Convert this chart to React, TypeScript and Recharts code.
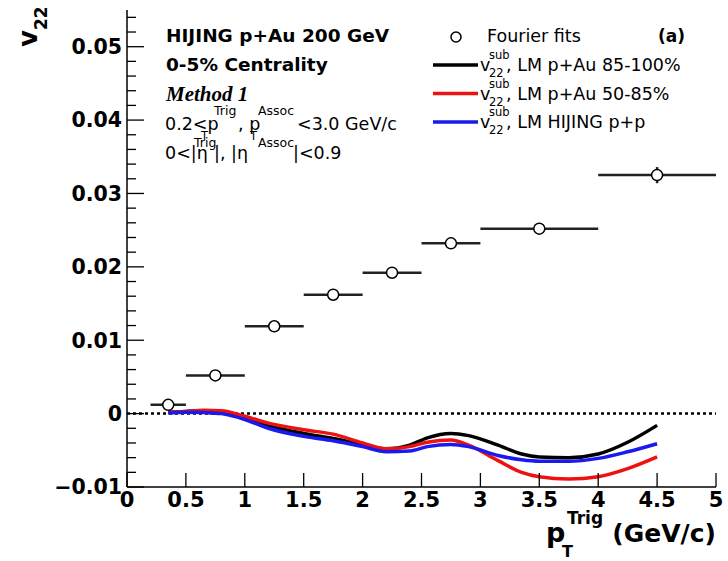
import {
  ComposedChart,
  Line,
  Scatter,
  ErrorBar,
  XAxis,
  YAxis,
  ReferenceLine,
} from "recharts";

// Fourier fit points (bin centre, value, half bin width, stat error)
const fitX = [0.35, 0.75, 1.25, 1.75, 2.25, 2.75, 3.5, 4.5];
const fitY = [0.0012, 0.0052, 0.0119, 0.0162, 0.0192, 0.0232, 0.0252, 0.0325];
const fitXErr = [0.15, 0.25, 0.25, 0.25, 0.25, 0.25, 0.5, 0.5];
const fitYErr = [0.0002, 0.0002, 0.0002, 0.0002, 0.0002, 0.0002, 0.0002, 0.0011];

// v22 sub curves
const curveX = [
  0.35, 0.5, 0.65, 0.8, 1.0, 1.2, 1.5, 1.75, 2.0, 2.2, 2.4, 2.55, 2.75, 2.9,
  3.15, 3.35, 3.5, 3.75, 4.0, 4.25, 4.5,
];
const lm85100 = [
  0.0002, 0.0003, 0.0004, 0.0002, -0.00045, -0.0016, -0.0027, -0.0034, -0.0042,
  -0.0048, -0.0043, -0.0033, -0.0027, -0.003, -0.0043, -0.0055, -0.0059, -0.006,
  -0.0055, -0.0039, -0.0016,
];
const lm5085 = [
  0.0002, 0.0003, 0.00045, 0.0004, -0.00036, -0.0013, -0.0022, -0.0028, -0.004,
  -0.0048, -0.0045, -0.0039, -0.0036, -0.0043, -0.0064, -0.008, -0.0086,
  -0.0089, -0.0086, -0.0075, -0.0059,
];
const lmPP = [
  0.0001, 0.0002, 0.00015, 0.0, -0.0008, -0.002, -0.0031, -0.0037, -0.0045,
  -0.0052, -0.0051, -0.0045, -0.0042, -0.0045, -0.0057, -0.0063, -0.0065,
  -0.0065, -0.0061, -0.0052, -0.0041,
];

const xTicks = [0, 0.5, 1, 1.5, 2, 2.5, 3, 3.5, 4, 4.5, 5];
const xTickLabels = ["0", "0.5", "1", "1.5", "2", "2.5", "3", "3.5", "4", "4.5", "5"];
const yMajor = [-0.01, 0, 0.01, 0.02, 0.03, 0.04, 0.05];
const yMajorLabels = ["\u22120.01", "0", "0.01", "0.02", "0.03", "0.04", "0.05"];
const yTicks = [
  -0.01, -0.008, -0.006, -0.004, -0.002, 0, 0.002, 0.004, 0.006, 0.008, 0.01,
  0.012, 0.014, 0.016, 0.018, 0.02, 0.022, 0.024, 0.026, 0.028, 0.03, 0.032,
  0.034, 0.036, 0.038, 0.04, 0.042, 0.044, 0.046, 0.048, 0.05, 0.052, 0.054,
];

const fitData = fitX.map((x, i) => ({ x, y: fitY[i], xe: fitXErr[i], ye: fitYErr[i] }));
const toSeries = (ys: number[]) => curveX.map((x, i) => ({ x, y: ys[i] }));

const FONT = "'DejaVu Sans', sans-serif";

const isMajor = (v: number) => yMajor.some((m) => Math.abs(m - v) < 1e-9);

const BottomTick = (props: any) => {
  const { x, y, payload } = props;
  const i = xTicks.indexOf(payload.value);
  return (
    <g>
      <line x1={x} y1={y} x2={x} y2={y - 14} stroke="#000" strokeWidth={1.3} />
      <text x={x} y={y + 20} textAnchor="middle" fontFamily={FONT} fontWeight="bold" fontSize={21}>
        {xTickLabels[i]}
      </text>
    </g>
  );
};

const TopTick = (props: any) => {
  const { x, y } = props;
  return <line x1={x} y1={y} x2={x} y2={y + 14} stroke="#000" strokeWidth={1.3} />;
};

const LeftTick = (props: any) => {
  const { x, y, payload } = props;
  const major = isMajor(payload.value);
  const idx = yMajor.findIndex((m) => Math.abs(m - payload.value) < 1e-9);
  return (
    <g>
      <line x1={x} y1={y} x2={x + (major ? 17 : 9)} y2={y} stroke="#000" strokeWidth={1.3} />
      {major && (
        <text x={x - 5} y={y} dy="0.36em" textAnchor="end" fontFamily={FONT} fontWeight="bold" fontSize={20.5}>
          {yMajorLabels[idx]}
        </text>
      )}
    </g>
  );
};

const RightTick = (props: any) => {
  const { x, y, payload } = props;
  const major = isMajor(payload.value);
  return <line x1={x} y1={y} x2={x - (major ? 17 : 9)} y2={y} stroke="#000" strokeWidth={1.3} />;
};

const OpenCircle = (props: any) => (
  <circle cx={props.cx} cy={props.cy} r={5.5} fill="#fff" stroke="#000" strokeWidth={1.5} />
);

const Annotations = () => (
  <svg
    width={728}
    height={561}
    style={{ position: "absolute", left: 0, top: 0, pointerEvents: "none" }}
  >
    {/* y title */}
    <text transform="translate(37,47) rotate(-90)" fontFamily={FONT} fontWeight="bold" fontSize={26}>
      v
      <tspan fontSize={17} dy={10}>22</tspan>
    </text>
    {/* x title */}
    <g fontFamily={FONT} fontWeight="bold">
      <text x={546} y={542} fontSize={27}>p</text>
      <text x={567} y={524} fontSize={17}>Trig</text>
      <text x={562} y={557} fontSize={16}>T</text>
      <text x={716} y={542} fontSize={25} textAnchor="end">(GeV/c)</text>
    </g>
    {/* info text */}
    <g fontFamily={FONT}>
      <text x={166} y={42} fontSize={18.5} fontWeight="bold">HIJING p+Au 200 GeV</text>
      <text x={166} y={71} fontSize={18.5} fontWeight="bold">0-5% Centrality</text>
      <text x={166} y={101} fontSize={21} fontWeight="bold" fontStyle="italic" fontFamily="'Liberation Serif', serif">
        Method 1
      </text>
      <text x={165} y={130} fontSize={17.5}>0.2&lt;p</text>
      <text x={214} y={115} fontSize={12.5}>Trig</text>
      <text x={201} y={140} fontSize={11.5}>T</text>
      <text x={238} y={130} fontSize={17.5}>, p</text>
      <text x={258} y={115} fontSize={12.5}>Assoc</text>
      <text x={250} y={140} fontSize={11.5}>T</text>
      <text x={297} y={130} fontSize={17.5}>&lt;3.0 GeV/c</text>
      <text x={165} y={159} fontSize={17.5}>0&lt;|η</text>
      <text x={194} y={147} fontSize={12.5}>Trig</text>
      <text x={214} y={159} fontSize={17.5}>|, |η</text>
      <text x={258} y={147} fontSize={12.5}>Assoc</text>
      <text x={293} y={159} fontSize={17.5}>|&lt;0.9</text>
    </g>
    {/* legend */}
    <g fontFamily={FONT} fontSize={17.5}>
      <circle cx={456} cy={37} r={5} fill="#fff" stroke="#000" strokeWidth={1.5} />
      <text x={487} y={42}>Fourier fits</text>
      <text x={685} y={42} fontWeight="bold" fontSize={17} textAnchor="end">(a)</text>
      {[
        { c: "#000000", t: ", LM p+Au 85-100%", y: 71 },
        { c: "#ee1111", t: ", LM p+Au 50-85%", y: 99.5 },
        { c: "#1a1aee", t: ", LM HIJING p+p", y: 128 },
      ].map((r) => (
        <g key={r.t}>
          <line x1={433} x2={478} y1={r.y - 6} y2={r.y - 6} stroke={r.c} strokeWidth={3.5} />
          <text x={480} y={r.y}>v</text>
          <text x={489} y={r.y - 12} fontSize={11.5}>sub</text>
          <text x={489} y={r.y + 6} fontSize={11.5}>22</text>
          <text x={506} y={r.y}>{r.t}</text>
        </g>
      ))}
    </g>
  </svg>
);

export default function App() {
  return (
    <div style={{ position: "absolute", left: 0, top: 0, width: 728, height: 561, background: "#fff" }}>
      <ComposedChart width={728} height={561} margin={{ top: 10, right: 12, bottom: 0, left: 0 }}>
        <XAxis
          dataKey="x"
          type="number"
          domain={[0, 5]}
          ticks={xTicks}
          interval={0}
          allowDataOverflow
          height={74}
          tickSize={0}
          tickMargin={0}
          tickLine={false}
          tick={<BottomTick />}
          axisLine={{ stroke: "#000", strokeWidth: 1.5 }}
        />
        <XAxis
          xAxisId="t"
          orientation="top"
          type="number"
          domain={[0, 5]}
          ticks={xTicks}
          interval={0}
          allowDataOverflow
          height={0}
          tickSize={0}
          tickMargin={0}
          tickLine={false}
          tick={<TopTick />}
          axisLine={{ stroke: "#000", strokeWidth: 1.5 }}
        />
        <YAxis
          dataKey="y"
          type="number"
          domain={[-0.01, 0.055]}
          ticks={yTicks}
          interval={0}
          allowDataOverflow
          width={127}
          tickSize={0}
          tickMargin={0}
          tickLine={false}
          tick={<LeftTick />}
          axisLine={{ stroke: "#000", strokeWidth: 1.5 }}
        />
        <YAxis
          yAxisId="r"
          orientation="right"
          type="number"
          domain={[-0.01, 0.055]}
          ticks={yTicks}
          interval={0}
          allowDataOverflow
          width={0}
          tickSize={0}
          tickMargin={0}
          tickLine={false}
          tick={<RightTick />}
          axisLine={{ stroke: "#000", strokeWidth: 1.5 }}
        />
        <ReferenceLine y={0} stroke="#000" strokeWidth={2.5} strokeDasharray="3 3" />
        <Line data={toSeries(lm85100)} dataKey="y" type="monotone" stroke="#000000" strokeWidth={3.5} dot={false} isAnimationActive={false} />
        <Line data={toSeries(lm5085)} dataKey="y" type="monotone" stroke="#ee1111" strokeWidth={3.5} dot={false} isAnimationActive={false} />
        <Line data={toSeries(lmPP)} dataKey="y" type="monotone" stroke="#1a1aee" strokeWidth={3.5} dot={false} isAnimationActive={false} />
        <Scatter data={fitData} dataKey="y" shape={<OpenCircle />} isAnimationActive={false}>
          <ErrorBar dataKey="xe" direction="x" width={0} stroke="#222" strokeWidth={2.5} />
          <ErrorBar dataKey="ye" direction="y" width={0} stroke="#222" strokeWidth={2.5} />
        </Scatter>
      </ComposedChart>
      <Annotations />
    </div>
  );
}
